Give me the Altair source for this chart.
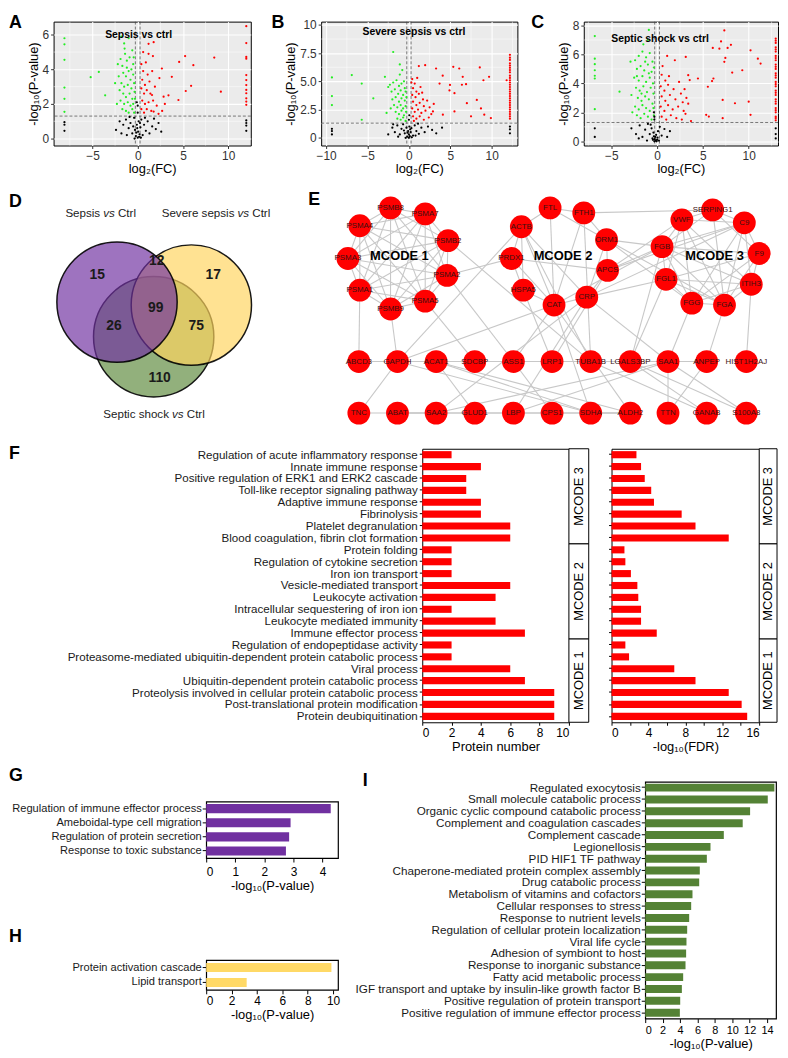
import altair as alt
import pandas as pd

FONT = "Liberation Sans"

# ---------------- A-C volcano data: (log2FC, -log10 P) ----------------
a_down = [(-8.1,5.8),(-8.1,5.45),(-8.1,4.55),(-8.1,2.95),(-8.1,2.3),(-8.1,1.55),
          (-5.2,3.55),(-4.3,3.85),(-3.6,2.5),(-2.5,3.2),(-2.2,4.3),(-1.8,5.9),(-1.5,5.5),(-1.0,5.8),
          (-1.9,4.6),(-1.7,4.2),(-1.4,4.9),(-1.2,4.5),(-0.9,4.7),(-0.6,5.1),(-0.5,4.3),
          (-1.6,3.8),(-1.3,3.6),(-1.0,3.9),(-0.8,3.4),(-0.5,3.7),(-1.8,3.2),(-1.5,3.0),(-1.1,3.1),
          (-0.7,2.9),(-0.4,3.2),(-2.0,2.8),(-1.6,2.6),(-1.3,2.4),(-0.9,2.6),(-0.6,2.3),(-0.35,2.7),
          (-1.9,2.2),(-1.5,2.0),(-1.1,2.1),(-0.8,1.9),(-0.5,2.0),(-1.7,1.7),(-1.3,1.6),(-1.0,1.5),
          (-0.6,1.7),(-0.4,1.5),(-2.3,2.0),(-1.2,4.1),(-0.7,4.0),(-2.1,3.6),(-0.45,4.7),(-1.45,5.2),(-0.3,2.3)]
a_up = [(12.0,6.5),(12.0,5.52),(12.0,4.72),(12.0,4.62),(12.0,3.67),(12.0,3.38),(12.0,3.09),(12.0,2.81),
        (12.0,2.62),(12.0,2.33),(12.0,2.14),(12.0,1.95),
        (1.2,5.48),(1.76,5.57),(1.68,4.77),(5.24,4.77),(8.46,4.68),(4.58,4.43),(6.15,4.24),(2.67,4.05),
        (3.77,3.57),(5.9,3.05),(5.31,2.75),(9.19,2.71),(4.5,2.23),(3.4,2.5),(2.86,2.42),(1.58,2.52),
        (2.3,1.43),(1.76,1.56),
        (0.4,4.3),(0.6,3.9),(0.9,4.4),(1.1,3.7),(0.5,3.4),(0.8,3.1),(1.3,3.3),(1.6,3.9),(0.4,2.9),
        (0.7,2.6),(1.0,2.8),(1.4,2.6),(1.9,3.0),(0.5,2.2),(0.8,2.0),(1.2,2.1),(1.7,2.2),(0.4,1.7),
        (0.7,1.5),(1.0,1.7),(1.5,1.6),(2.1,1.9),(2.4,3.5),(1.2,4.9),(0.6,5.0),(3.0,2.0),(2.7,1.6)]
a_ns = [(-2.0,1.0),(-1.6,0.8),(-1.3,1.1),(-1.0,0.6),(-0.8,0.9),(-0.6,0.3),(-0.4,1.2),(-0.3,0.5),
        (-0.2,0.15),(-0.1,0.8),(0.0,0.05),(0.05,0.4),(0.1,1.0),(0.2,0.25),(0.3,0.65),(0.4,1.1),
        (0.55,0.2),(0.7,0.8),(0.9,0.45),(1.1,1.0),(1.3,0.3),(1.6,0.7),(2.0,0.55),(2.3,0.9),(2.6,0.4),
        (-2.4,0.5),(-1.8,0.3),(-1.2,0.2),(-0.5,0.7),(0.15,0.1),(-0.15,0.35),(0.35,0.05),(-0.9,1.25),
        (0.8,1.2),(1.8,1.15),(-0.05,0.6),(0.25,0.9),(-0.35,0.0),(0.0,1.5),(0.0,1.9),(-0.1,2.1),
        (-8.1,0.45),(-8.1,0.8),(-8.1,0.95),(12.0,0.45),(12.0,0.75),(12.0,0.9),(12.0,1.05)]

b_down = [(-9.3,5.35),(-9.3,3.7),(-9.3,2.9),
          (-6.9,5.56),(-5.7,4.8),(-4.3,3.5),(-2.9,5.4),(-1.9,7.6),(-1.1,6.5),(-2.5,4.5),(-2.7,2.2),(-5.7,1.6),
          (-2.3,4.7),(-1.9,4.9),(-1.5,5.1),(-1.2,4.6),(-0.9,4.8),(-0.6,5.0),(-2.1,4.1),(-1.7,4.3),
          (-1.3,3.9),(-1.0,4.2),(-0.7,3.8),(-0.4,4.1),(-2.0,3.4),(-1.6,3.6),(-1.2,3.2),(-0.9,3.5),
          (-0.5,3.3),(-1.8,2.9),(-1.4,2.7),(-1.0,2.9),(-0.7,2.6),(-0.4,2.8),(-1.6,2.3),(-1.2,2.1),
          (-0.9,2.4),(-0.6,2.0),(-0.35,2.3),(-1.4,1.7),(-1.0,1.6),(-0.7,1.8),(-0.4,1.5),(-2.2,2.6),
          (-0.3,3.6),(-0.5,4.4),(-1.1,5.6),(-0.8,6.0)]
b_up = [(12.2,7.35),(12.2,7.1),(12.2,6.9),(12.2,6.6),(12.2,6.4),(12.2,6.2),(12.2,6.0),(12.2,5.8),
        (12.2,5.5),(12.2,5.3),(12.2,5.1),(12.2,4.9),(12.2,4.7),(12.2,4.5),(12.2,4.3),(12.2,4.1),
        (12.2,3.9),(12.2,3.7),(12.2,3.5),(12.2,3.3),(12.2,3.1),(12.2,2.9),(12.2,2.7),(12.2,2.5),
        (12.2,2.3),(12.2,2.1),(12.2,1.9),(12.2,1.7),
        (1.2,6.35),(1.96,6.43),(3.28,6.14),(5.36,6.29),(6.08,6.14),(8.56,6.23),(9.68,5.4),(9.0,5.1),
        (6.5,5.4),(4.08,5.5),(3.7,4.8),(6.4,4.7),(6.9,4.75),(4.96,4.68),(4.9,4.2),(5.5,3.95),
        (8.2,3.36),(7.0,3.07),(8.7,2.6),(9.1,2.05),(9.9,1.75),(5.5,2.34),(4.1,2.05),(2.9,2.34),
        (7.5,1.9),(11.8,5.1),
        (0.4,5.2),(0.7,4.8),(1.0,5.3),(0.5,4.4),(0.9,4.1),(1.4,4.5),(0.4,3.8),(0.8,3.6),(1.2,3.9),
        (1.7,3.4),(0.5,3.2),(0.9,2.9),(1.3,3.1),(1.8,2.8),(2.2,3.3),(0.4,2.6),(0.7,2.3),(1.1,2.5),
        (1.5,2.2),(2.0,2.4),(2.5,2.7),(0.5,1.9),(0.9,1.7),(1.3,1.9),(1.8,1.6),(2.4,1.8),(0.6,1.5),
        (3.0,3.0),(2.7,2.1),(1.6,4.0),(0.3,4.9)]
b_ns = [(-2.0,0.9),(-1.7,0.5),(-1.4,1.1),(-1.1,0.3),(-0.9,0.8),(-0.7,1.2),(-0.5,0.4),(-0.3,0.9),
        (-0.2,0.1),(-0.1,0.6),(0.0,0.0),(0.0,0.3),(0.05,1.0),(0.1,0.15),(0.2,0.5),(0.3,0.85),
        (0.5,0.2),(0.7,1.1),(0.9,0.6),(1.2,0.35),(1.5,0.9),(1.9,0.5),(2.3,1.0),(2.8,0.7),(3.3,0.4),
        (4.0,0.9),(-2.5,0.3),(-1.3,0.1),(-0.4,0.0),(0.35,0.05),(0.8,0.2),(-0.15,0.45),(0.15,0.75),
        (-0.6,0.65),(1.1,1.25),(-1.9,1.2),(0.0,1.6),(0.05,2.0),
        (-9.3,0.3),(-9.3,0.6),(-9.3,0.8),(12.2,0.4),(12.2,0.75),(12.2,1.0)]

c_down = [(-6.8,7.27),(-6.8,5.71),(-6.8,5.33),(-6.8,4.91),(-6.8,4.53),(-6.8,4.34),(-6.8,2.22),
          (-4.1,3.43),(-2.9,5.5),(-0.9,7.7),(-2.2,4.5),
          (-2.4,5.6),(-2.0,5.9),(-1.6,6.2),(-1.2,5.8),(-0.8,6.1),(-0.5,5.5),(-2.2,5.0),(-1.8,5.2),
          (-1.4,4.9),(-1.0,5.3),(-0.6,4.8),(-0.35,5.1),(-2.5,4.4),(-2.0,4.2),(-1.6,4.5),(-1.2,4.1),
          (-0.8,4.4),(-0.45,4.0),(-2.3,3.7),(-1.9,3.5),(-1.5,3.8),(-1.1,3.4),(-0.7,3.7),(-0.4,3.3),
          (-2.1,3.0),(-1.7,2.8),(-1.3,3.1),(-0.9,2.9),(-0.5,2.6),(-2.4,2.4),(-2.0,2.2),(-1.6,2.5),
          (-1.2,2.3),(-0.8,2.1),(-0.4,2.3),(-2.2,1.8),(-1.8,1.6),(-1.4,1.9),(-1.0,1.7),(-0.6,1.5),
          (-0.35,1.8),(-2.7,2.0),(-1.5,6.7),(-1.0,7.0),(-2.8,3.2),(-0.9,4.7),(-1.3,5.5),(-1.7,3.3)]
c_up = [(12.95,7.1),(12.95,6.8),(12.95,6.5),(12.95,6.2),(12.95,5.9),(12.95,5.6),(12.95,5.3),
        (12.95,5.0),(12.95,4.7),(12.95,4.4),(12.95,4.1),(12.95,3.8),(12.95,3.5),(12.95,3.2),
        (12.95,2.9),(12.95,2.6),(12.95,2.3),(12.95,2.0),(12.95,1.7),(12.95,1.45),(12.95,6.95),
        (12.95,6.35),(12.95,5.75),(12.95,5.15),(12.95,4.55),(12.95,3.95),(12.95,3.35),(12.95,2.75),
        (12.95,2.15),(12.95,1.6),
        (7.34,7.66),(6.98,6.9),(6.08,6.45),(6.8,6.4),(7.7,6.45),(8.06,6.67),(10.2,6.29),(11.0,5.71),
        (11.3,5.37),(7.45,5.76),(7.34,5.49),(3.13,5.83),(1.94,5.6),(9.3,4.91),(8.2,4.75),(6.15,4.34),
        (6.0,4.16),(5.54,3.77),(7.16,2.86),(8.5,2.63),(10.0,2.74),(10.2,1.83),(5.36,1.83),(5.65,1.71),
        (7.16,1.6),(3.4,4.57),(3.56,4.23),(4.46,4.34),
        (0.5,4.6),(0.9,4.2),(1.3,4.5),(0.4,3.8),(0.8,3.5),(1.2,3.9),(1.8,3.6),(2.4,4.1),(0.5,3.1),
        (0.9,2.8),(1.4,3.2),(2.0,2.9),(2.6,3.3),(3.2,3.0),(0.4,2.4),(0.8,2.1),(1.2,2.5),(1.7,2.2),
        (2.3,2.4),(2.9,2.1),(3.4,2.6),(0.5,1.7),(1.0,1.5),(1.5,1.8),(2.1,1.6),(2.7,1.5),(3.1,1.9),
        (3.7,1.4),(0.6,5.2),(1.1,5.9),(2.8,2.7),(3.0,3.6)]
c_ns = [(-2.8,0.9),(-2.3,0.5),(-1.9,1.1),(-1.6,0.3),(-1.3,0.8),(-1.0,1.2),(-0.8,0.5),(-0.6,0.9),
        (-0.5,0.2),(-0.4,0.6),(-0.3,0.0),(-0.25,0.15),(-0.2,0.3),(-0.15,0.05),(-0.1,0.45),(0.0,0.1),
        (0.05,0.25),(0.1,0.7),(0.2,0.05),(0.3,1.0),(0.5,0.4),(0.8,0.85),(1.1,0.3),(1.4,0.7),
        (-0.45,0.1),(-0.35,0.35),(-0.05,0.0),(-2.0,0.2),(-1.1,0.05),(-0.7,1.15),(-0.3,1.5),
        (-0.35,2.0),(-0.3,1.7),(-6.8,0.3),(-6.8,0.9),(12.95,0.5),(12.95,0.9),(12.95,0.2)]

volcano_names = ["Sepsis vs ctrl", "Severe sepsis vs ctrl", "Septic shock vs ctrl"]
fc_cut = [-0.26, 0.26]
p_cut = [1.3]

# ---------------- D Venn (drawn bottom to top) ----------------
venn_sets = ["Septic shock", "Severe sepsis", "Sepsis"]
venn_cx = [146, 184, 109]
venn_cy = [144, 112, 109]
venn_colors = ["#5f8a3e", "#ffd45e", "#7030a0"]
venn_counts = ["15", "12", "17", "99", "26", "75", "110"]
venn_count_x = [89, 149, 206, 148, 106, 189, 152]
venn_count_y = [82, 68, 82, 115, 133, 133, 186]
venn_label_left = ["Sepsis", "Severe sepsis", "Septic shock"]
venn_label_right = ["Ctrl", "Ctrl", "Ctrl"]
venn_label_x = [101, 236.5, 170.4]
venn_label_y = [19, 19, 222]

# ---------------- E network ----------------
node_names = ["PSMB8","PSMA7","PSMA4","PSMB2","PSMA3","PSMA2","PSMA1","PSMB9","PSMA5",
              "FTL","FTH1","ACTB","ORM1","PRDX1","APCS","HSPA5","CRP","CAT",
              "SERPING1","VWF","C9","FGB","F9","FGL1","ITIH3","FGG","FGA",
              "ABCD3","GAPDH","ACAT1","SDCBP","ASS1","LRP1","TUBA1B","LGALS3BP","SAA1","ANPEP","HIST1H2AJ",
              "TNC","ABAT","SAA2","GLUD1","LBP","CPS1","SDHA","ALDH2","TTN","GANAB","S100A8"]
node_x = [53,88,22,111,10,110,22,53,88,
          214,248,185,271,175,272,187,251,218,
          378,347,410,327,425,331,417,357,390,
          21,60,99,138,177,216,255,295,333,372,412,
          21,60,99,138,177,216,255,295,333,372,412]
node_y = [14,20,32,47,65,82,97,116,108,
          14,19,33,46,65,77,97,104,112,
          16,26,29,53,60,86,91,110,112,
          169,169,169,169,169,169,169,169,169,169,169,
          221,221,221,221,221,221,221,221,221,221,221]
edges = ["PSMB8-PSMA7","PSMB8-PSMA4","PSMB8-PSMB2","PSMB8-PSMA3","PSMB8-PSMA2","PSMB8-PSMA1","PSMB8-PSMB9",
         "PSMB8-PSMA5","PSMA7-PSMA4","PSMA7-PSMB2","PSMA7-PSMA3","PSMA7-PSMA2","PSMA7-PSMA1","PSMA7-PSMB9",
         "PSMA7-PSMA5","PSMA4-PSMB2","PSMA4-PSMA3","PSMA4-PSMA2","PSMA4-PSMA1","PSMA4-PSMB9","PSMA4-PSMA5",
         "PSMB2-PSMA3","PSMB2-PSMA2","PSMB2-PSMA1","PSMB2-PSMB9","PSMB2-PSMA5","PSMA3-PSMA2","PSMA3-PSMA1",
         "PSMA3-PSMB9","PSMA3-PSMA5","PSMA2-PSMA1","PSMA2-PSMB9","PSMA2-PSMA5","PSMA1-PSMB9","PSMA1-PSMA5",
         "PSMB9-PSMA5","PSMA2-PRDX1","PSMA1-ABCD3","PSMB9-GAPDH","PSMA5-SDCBP","PSMA2-ASS1","PSMB2-TUBA1B",
         "FTL-FTH1","FTL-ACTB","FTL-ORM1","FTL-CAT","FTH1-ORM1","FTH1-SERPING1","FTH1-CAT","ACTB-PRDX1",
         "ACTB-HSPA5","ACTB-CAT","ACTB-CRP","ACTB-GAPDH","PRDX1-HSPA5","PRDX1-CAT","PRDX1-APCS","ORM1-APCS",
         "ORM1-CRP","ORM1-FGB","ORM1-FGA","ORM1-FGG","APCS-CRP","APCS-FGB","APCS-C9","CRP-FGL1","CRP-CAT",
         "HSPA5-CAT","HSPA5-LRP1","CAT-GAPDH","CAT-SDHA","CAT-ALDH2","FTH1-TUBA1B",
         "SERPING1-VWF","SERPING1-C9","SERPING1-FGB","SERPING1-F9","SERPING1-FGA","VWF-C9","VWF-FGB",
         "VWF-FGL1","VWF-FGG","VWF-FGA","C9-FGB","C9-F9","C9-ITIH3","C9-FGA","C9-FGG","FGB-F9","FGB-FGL1",
         "FGB-ITIH3","FGB-FGG","FGB-FGA","F9-ITIH3","F9-FGA","F9-FGL1","FGL1-FGG","FGL1-FGA","FGL1-ITIH3",
         "ITIH3-FGG","ITIH3-FGA","FGG-FGA","FGG-F9","VWF-ITIH3",
         "FGA-ANPEP","FGG-SAA1","ITIH3-HIST1H2AJ","FGL1-LGALS3BP","C9-CRP","FGB-CAT","VWF-APCS",
         "ABCD3-GAPDH","GAPDH-ACAT1","ACAT1-SDCBP","SDCBP-ASS1","LRP1-TUBA1B","TUBA1B-LGALS3BP",
         "SAA1-ANPEP","TNC-ABAT","ABAT-SAA2","TNC-GAPDH","ABAT-GLUD1","ABAT-ALDH2","SAA2-SAA1",
         "GLUD1-ACAT1","GLUD1-CPS1","LBP-SAA1","CPS1-ASS1","CPS1-ALDH2","SDHA-ACAT1","SDHA-ALDH2",
         "ALDH2-ACAT1","TTN-ANPEP","GANAB-TUBA1B","GANAB-LGALS3BP","S100A8-SAA1","S100A8-LGALS3BP",
         "LRP1-APCS","LBP-CRP","SAA2-CRP","GAPDH-LRP1","GAPDH-SDHA","ASS1-CAT","TUBA1B-ACTB",
         "LGALS3BP-FGB","SAA1-CRP","ANPEP-LGALS3BP","TTN-SAA1"]
mcode_names = ["MCODE 1", "MCODE 2", "MCODE 3"]
mcode_x = [62, 227, 380]
mcode_y = [63, 63, 63]

# ---------------- F enrichment ----------------
f_terms = ["Regulation of acute inflammatory response","Innate immune response",
           "Positive regulation of ERK1 and ERK2 cascade","Toll-like receptor signaling pathway",
           "Adaptive immune response","Fibrinolysis","Platelet degranulation",
           "Blood coagulation, fibrin clot formation","Protein folding","Regulation of cytokine secretion",
           "Iron ion transport","Vesicle-mediated transport","Leukocyte activation",
           "Intracellular sequestering of iron ion","Leukocyte mediated immunity","Immune effector process",
           "Regulation of endopeptidase activity",
           "Proteasome-mediated ubiquitin-dependent protein catabolic process","Viral process",
           "Ubiquitin-dependent protein catabolic process",
           "Proteolysis involved in cellular protein catabolic process",
           "Post-translational protein modification","Protein deubiquitination"]
f_count = [2,4,3,3,4,4,6,6, 2,2,2,6,5,2,5,7, 2,2,6,7,9,9,9]
f_fdr = [2.7,3.2,3.6,4.3,4.6,7.6,9.1,12.7, 1.4,1.5,2.1,2.8,2.9,3.2,3.2,4.9, 1.5,1.9,6.8,9.1,12.7,14.1,14.7]
strip_names = ["MCODE 3", "MCODE 2", "MCODE 1"]
strip_start = [0, 8, 16]
strip_end = [8, 16, 23]

# ---------------- G, H, I ----------------
g_terms = ["Regulation of immune effector process","Ameboidal-type cell migration",
           "Regulation of protein secretion","Response to toxic substance"]
g_vals = [4.28, 2.9, 2.85, 2.74]
h_terms = ["Protein activation cascade", "Lipid transport"]
h_vals = [9.87, 3.19]
i_terms = ["Regulated exocytosis","Small molecule catabolic process","Organic cyclic compound catabolic process",
           "Complement and coagulation cascades","Complement cascade","Legionellosis","PID HIF1 TF pathway",
           "Chaperone-mediated protein complex assembly","Drug catabolic process",
           "Metabolism of vitamins and cofactors","Cellular responses to stress","Response to nutrient levels",
           "Regulation of cellular protein localization","Viral life cycle","Adhesion of symbiont to host",
           "Response to inorganic substance","Fatty acid metabolic process",
           "IGF transport and uptake by insulin-like growth factor B","Positive regulation of protein transport",
           "Positive regulation of immune effector process"]
i_vals = [14.84,14.08,12.05,11.2,9.03,7.5,7.08,6.27,6.2,5.43,5.28,5.05,4.82,4.74,4.7,4.63,4.36,4.21,4.02,3.98]


def letter(text, px, py):
    """Panel letter placed in pixels relative to the panel's plot area."""
    return alt.Chart(pd.DataFrame({"t": [text]})).mark_text(
        align="left", baseline="top", fontSize=18, fontWeight="bold", font=FONT, color="black").encode(
        x=alt.value(px), y=alt.value(py), text="t:N")


def spacer(w, h):
    return alt.Chart(pd.DataFrame({"v": [0]})).mark_point(size=0, opacity=0, strokeWidth=0).encode(
        x=alt.value(0), y=alt.value(0)).properties(width=w, height=h)


def volcano(down, up, ns, xdom, ydom, xt, yt, xminor, yminor, name, tx, ty, w, h, let, lx_, ly_, ylab=None):
    rows = [(x, y, "down") for x, y in down] + [(x, y, "up") for x, y in up] + [(x, y, "ns") for x, y in ns]
    df = pd.DataFrame(rows, columns=["x", "y", "g"])
    xs = alt.Scale(domain=xdom, nice=False, zero=False)
    ys = alt.Scale(domain=ydom, nice=False, zero=False)
    common = dict(grid=True, gridColor="white", gridWidth=1.1, domain=False, tickColor="#333",
                  tickSize=3, labelColor="#333", labelFontSize=12, titleFontSize=13,
                  titleFontWeight="normal", titleColor="black")
    xax = alt.Axis(values=xt, title="log₂(FC)", labelPadding=2, titlePadding=1, **common)
    if ylab:
        yax = alt.Axis(values=yt, title="-log₁₀(P-value)", labelPadding=2, titlePadding=2, labelExpr=ylab, **common)
    else:
        yax = alt.Axis(values=yt, title="-log₁₀(P-value)", labelPadding=2, titlePadding=2, **common)
    X = alt.X("x:Q", scale=xs, axis=xax)
    Y = alt.Y("y:Q", scale=ys, axis=yax)
    mx = alt.Chart(pd.DataFrame({"x": xminor})).mark_rule(color="white", strokeWidth=0.5).encode(x=X)
    my = alt.Chart(pd.DataFrame({"y": yminor})).mark_rule(color="white", strokeWidth=0.5).encode(y=Y)
    vl = alt.Chart(pd.DataFrame({"x": fc_cut})).mark_rule(color="#444", strokeDash=[3, 2], strokeWidth=0.7).encode(x=X)
    hl = alt.Chart(pd.DataFrame({"y": p_cut})).mark_rule(color="#444", strokeDash=[3, 2], strokeWidth=0.7).encode(y=Y)
    pts = alt.Chart(df).mark_circle(size=5, opacity=1).encode(
        x=X, y=Y,
        color=alt.Color("g:N", scale=alt.Scale(domain=["down", "up", "ns"], range=["#22ee22", "#ff0000", "#000000"]), legend=None))
    lab = alt.Chart(pd.DataFrame({"x": [tx], "y": [ty], "t": [name]})).mark_text(
        align="left", baseline="middle", fontWeight="bold", fontSize=10.5, font=FONT, color="black").encode(x=X, y=Y, text="t:N")
    return alt.layer(mx, my, vl, hl, pts, lab, letter(let, lx_, ly_)).properties(
        width=w, height=h, view=alt.ViewBackground(fill="#ebebeb", stroke="black", strokeWidth=1))


A = volcano(a_down, a_up, a_ns, [-9.3, 12.5], [-0.4, 6.76], [-5, 0, 5, 10], [0, 2, 4, 6],
            [-7.5, -2.5, 2.5, 7.5], [1, 3, 5], volcano_names[0], -3.6, 6.0, 199, 125, "A", -45, -8)
B = volcano(b_down, b_up, b_ns, [-10.6, 13.1], [-0.68, 10.29], [-10, -5, 0, 5, 10], [0, 2.5, 5, 7.5, 10],
            [-7.5, -2.5, 2.5, 7.5, 12.5], [1.25, 3.75, 6.25, 8.75], volcano_names[1], -5.6, 9.4, 198, 125, "B", -50, -8,
            ylab="datum.value == 0 ? '0' : datum.value == 10 ? '10' : format(datum.value, '.1f')")
C = volcano(c_down, c_up, c_ns, [-8.0, 13.2], [-0.29, 8.27], [-5, 0, 5, 10], [0, 2, 4, 6, 8],
            [-7.5, -2.5, 2.5, 7.5, 12.5], [1, 3, 5, 7], volcano_names[2], -5.0, 7.1, 196, 125, "C", -53, -8)

# ---- D: Venn ----
DX = alt.Scale(domain=[0, 300], nice=False, zero=False)
DY = alt.Scale(domain=[0, 235], reverse=True, nice=False, zero=False)
circles = []
for i in range(3):
    cdf = pd.DataFrame({"cx": [venn_cx[i]], "cy": [venn_cy[i]]})
    circles.append(alt.Chart(cdf).mark_circle(size=14741, color=venn_colors[i], stroke="black", strokeWidth=1.5,
                                              fillOpacity=0.68, strokeOpacity=0.9).encode(
        x=alt.X("cx:Q", scale=DX, axis=None), y=alt.Y("cy:Q", scale=DY, axis=None)))
cnt = alt.Chart(pd.DataFrame({"t": venn_counts, "x": venn_count_x, "y": venn_count_y})).mark_text(
    fontSize=14, fontWeight="bold", color="#1a1a1a", font=FONT).encode(
    x=alt.X("x:Q", scale=DX, axis=None), y=alt.Y("y:Q", scale=DY, axis=None), text="t:N")
ldf = pd.DataFrame({"l": venn_label_left, "r": venn_label_right, "v": ["vs"] * 3, "x": venn_label_x, "y": venn_label_y})
lx = alt.X("x:Q", scale=DX, axis=None)
ly = alt.Y("y:Q", scale=DY, axis=None)
lab_l = alt.Chart(ldf).mark_text(align="right", dx=-9, fontSize=11.7, color="#222", font=FONT).encode(x=lx, y=ly, text="l:N")
lab_v = alt.Chart(ldf).mark_text(align="center", fontSize=11.7, fontStyle="italic", color="#222", font=FONT).encode(x=lx, y=ly, text="v:N")
lab_r = alt.Chart(ldf).mark_text(align="left", dx=9, fontSize=11.7, color="#222", font=FONT).encode(x=lx, y=ly, text="r:N")
D = alt.layer(*circles, cnt, lab_l, lab_v, lab_r, letter("D", 0, -1.3)).properties(width=300, height=235)

# ---- E: network ----
pos = {n: (x, y) for n, x, y in zip(node_names, node_x, node_y)}
erows = []
for e in edges:
    s, t = e.split("-")
    erows.append((pos[s][0], pos[s][1], pos[t][0], pos[t][1]))
edf = pd.DataFrame(erows, columns=["x1", "y1", "x2", "y2"])
ndf = pd.DataFrame({"n": node_names, "x": node_x, "y": node_y})
EX = alt.Scale(domain=[0, 440], nice=False, zero=False)
EY = alt.Scale(domain=[0, 235], reverse=True, nice=False, zero=False)
elines = alt.Chart(edf).mark_rule(color="#c8c8c8", strokeWidth=1.1).encode(
    x=alt.X("x1:Q", scale=EX, axis=None), y=alt.Y("y1:Q", scale=EY, axis=None), x2="x2:Q", y2="y2:Q")
nodes = alt.Chart(ndf).mark_circle(size=530, color="#ff0000", opacity=1).encode(
    x=alt.X("x:Q", scale=EX, axis=None), y=alt.Y("y:Q", scale=EY, axis=None))
nlab = alt.Chart(ndf).mark_text(fontSize=8, color="#3a1010", font=FONT).encode(
    x=alt.X("x:Q", scale=EX, axis=None), y=alt.Y("y:Q", scale=EY, axis=None), text="n:N")
mlab = alt.Chart(pd.DataFrame({"t": mcode_names, "x": mcode_x, "y": mcode_y})).mark_text(
    fontSize=13, fontWeight="bold", color="black", font=FONT).encode(
    x=alt.X("x:Q", scale=EX, axis=None), y=alt.Y("y:Q", scale=EY, axis=None), text="t:N")
E = alt.layer(elines, nodes, nlab, mlab, letter("E", -30, -3.3)).properties(width=440, height=235)

# ---- F ----
fdf = pd.DataFrame({"term": f_terms, "count": f_count, "fdr": f_fdr})


def fbars(field, xdom, xt, xtitle, labels, w, let=None):
    ax_y = alt.Axis(title=None, labels=labels, labelFontSize=11.7, labelLimit=420, labelColor="#1a1a1a",
                    domain=False, tickColor="black", tickSize=3, labelPadding=2)
    ch = alt.Chart(fdf).mark_bar(color="#ff0000").encode(
        x=alt.X(field + ":Q", scale=alt.Scale(domain=xdom, nice=False),
                axis=alt.Axis(values=xt, title=xtitle, grid=False, domain=False, tickColor="black", tickSize=3,
                              labelFontSize=12, labelColor="black", titleFontSize=13, titleFontWeight="normal",
                              titleColor="black", labelPadding=2, titlePadding=2)),
        y=alt.Y("term:N", sort=f_terms, scale=alt.Scale(paddingInner=0.4, paddingOuter=0.2), axis=ax_y))
    layers = [ch]
    if let:
        layers.append(letter(let, -417, -3.3))
    return alt.layer(*layers).properties(width=w, height=276, view=alt.ViewBackground(stroke="black", strokeWidth=1))


def strip(w):
    sdf = pd.DataFrame({"name": strip_names, "s": strip_start, "e": strip_end})
    sdf["m"] = (sdf["s"] + sdf["e"]) / 2
    SY = alt.Scale(domain=[0, 23], reverse=True, nice=False, zero=False)
    r = alt.Chart(sdf).mark_rect(fill="white", stroke="black", strokeWidth=1).encode(
        x=alt.value(0), x2=alt.value(w), y=alt.Y("s:Q", scale=SY, axis=None), y2="e:Q")
    t = alt.Chart(sdf).mark_text(angle=270, fontSize=13, color="black", font=FONT).encode(
        x=alt.value(w / 2), y=alt.Y("m:Q", scale=SY, axis=None), text="name:N")
    return alt.layer(r, t).properties(width=w, height=276)


FL = fbars("count", [0, 10], [0, 2, 4, 6, 8, 10], "Protein number", True, 148, "F")
FR = fbars("fdr", [0, 16], [0, 2, 4, 6, 8, 10, 12, 14, 16], "-log₁₀(FDR)", False, 149)


def hbar(terms, vals, color, xdom, xt, w, h, pad, lsize, tsize, lpad, tpad, let, lx_, ly_):
    df = pd.DataFrame({"term": terms, "v": vals})
    bars = alt.Chart(df).mark_bar(color=color).encode(
        x=alt.X("v:Q", scale=alt.Scale(domain=xdom, nice=False),
                axis=alt.Axis(values=xt, title="-log₁₀(P-value)", grid=False, domain=False, tickColor="black",
                              tickSize=4, labelFontSize=tsize, labelColor="black", titleFontSize=13,
                              titleFontWeight="normal", titleColor="black", labelPadding=lpad, titlePadding=tpad)),
        y=alt.Y("term:N", sort=terms, scale=alt.Scale(paddingInner=pad, paddingOuter=pad / 2),
                axis=alt.Axis(title=None, labelFontSize=lsize, labelLimit=420, labelColor="#1a1a1a",
                              domain=False, tickColor="black", tickSize=4, labelPadding=1)))
    return alt.layer(bars, letter(let, lx_, ly_)).properties(
        width=w, height=h, view=alt.ViewBackground(stroke="black", strokeWidth=1.2))


G = hbar(g_terms, g_vals, "#7030a0", [0, 4.53], [0, 1, 2, 3, 4], 133, 57, 0.35, 11.2, 12, 5, 2, "G", -199, -34.3)
H = hbar(h_terms, h_vals, "#ffd966", [0, 10.39], [0, 2, 4, 6, 8, 10], 133, 30, 0.4, 11.2, 12, 2, 2, "H", -199, -32.3)
I = hbar(i_terms, i_vals, "#548235", [0, 15.03], [0, 2, 4, 6, 8, 10, 12, 14], 132, 239, 0.33, 11.8, 11, 2, 2, "I", -285, -9.3)

# flush layout: nested concat groups count as zero size, so spacers carry the row heights
flush = dict(spacing=0, bounds="flush")
row1 = alt.hconcat(spacer(45, 1), A, spacer(71, 1), B, spacer(67, 1), C, **flush)
row2 = alt.hconcat(D, spacer(32, 1), E, **flush)
row3 = alt.hconcat(spacer(417, 1), FL, strip(20), spacer(23, 1), FR, strip(18), **flush)
colGH = alt.vconcat(spacer(1, 20), G, spacer(1, 103), H, **flush)
row4 = alt.hconcat(spacer(199, 1), colGH, spacer(443, 1), I, **flush)

chart = alt.vconcat(spacer(1, 8), row1, spacer(1, 174), row2, spacer(1, 257), row3, spacer(1, 336), row4,
                    **flush).properties(
    padding={"left": 0, "top": 0, "right": 1, "bottom": 0}
).configure(font=FONT).configure_view(strokeWidth=0).configure_axis(labelFont=FONT, titleFont=FONT)

chart.save("out.html", embed_options={"renderer": "svg", "actions": False})
